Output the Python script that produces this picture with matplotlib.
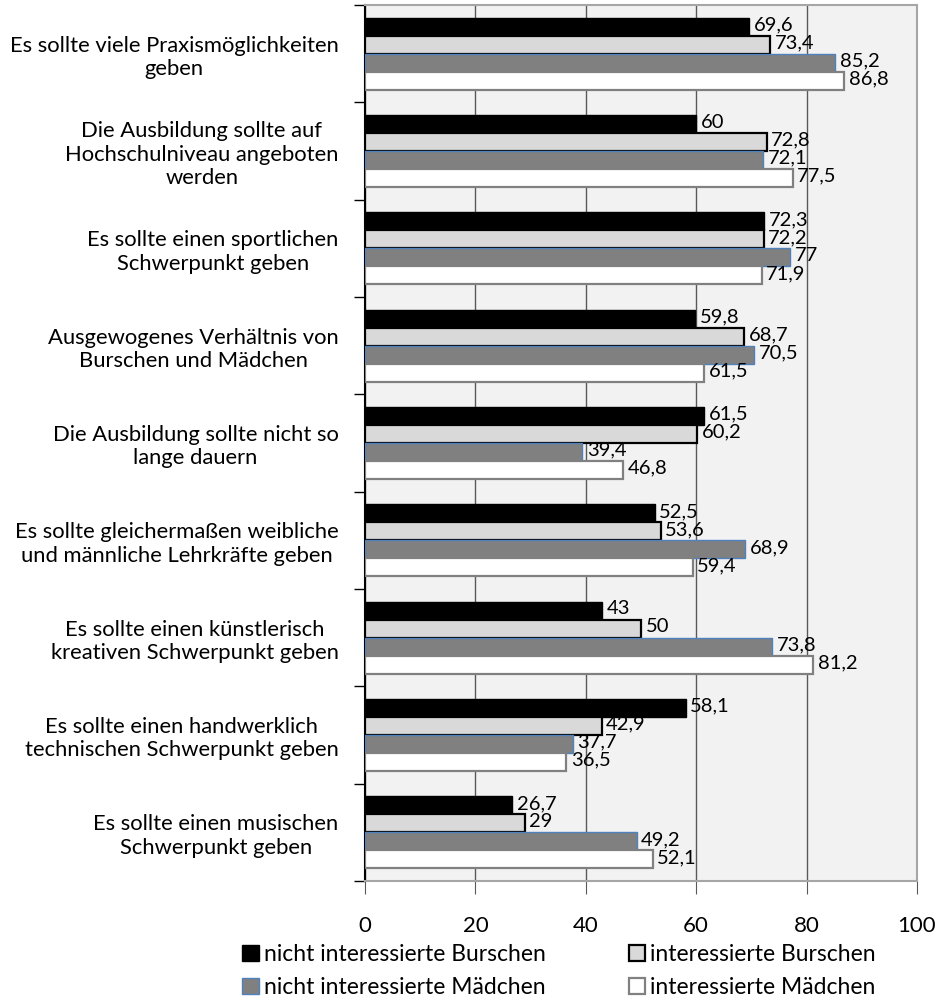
import numpy as np
import matplotlib.pyplot as plt
from matplotlib.patches import Patch

plt.rcParams['font.family'] = ['Lato', 'DejaVu Sans']

categories = [
    'Es sollte viele Praxismöglichkeiten\ngeben',
    'Die Ausbildung sollte auf\nHochschulniveau angeboten\nwerden',
    'Es sollte einen sportlichen\nSchwerpunkt geben',
    'Ausgewogenes Verhältnis von\nBurschen und Mädchen',
    'Die Ausbildung sollte nicht so\nlange dauern',
    'Es sollte gleichermaßen weibliche\nund männliche Lehrkräfte geben',
    'Es sollte einen künstlerisch\nkreativen Schwerpunkt geben',
    'Es sollte einen handwerklich\ntechnischen Schwerpunkt geben',
    'Es sollte einen musischen\nSchwerpunkt geben',
]
series_names = ['nicht interessierte Burschen', 'interessierte Burschen',
                'nicht interessierte Mädchen', 'interessierte Mädchen']
nicht_burschen = [69.6, 60, 72.3, 59.8, 61.5, 52.5, 43, 58.1, 26.7]
int_burschen = [73.4, 72.8, 72.2, 68.7, 60.2, 53.6, 50, 42.9, 29]
nicht_maedchen = [85.2, 72.1, 77, 70.5, 39.4, 68.9, 73.8, 37.7, 49.2]
int_maedchen = [86.8, 77.5, 71.9, 61.5, 46.8, 59.4, 81.2, 36.5, 52.1]

series = [nicht_burschen, int_burschen, nicht_maedchen, int_maedchen]
faces = ['#000000', '#d9d9d9', '#808080', '#ffffff']
edges = ['#000000', '#000000', '#4f81bd', '#808080']
lws = [1.0, 1.6, 1.0, 1.6]

fig = plt.figure(figsize=(9.4, 9.99), dpi=100)
ax = fig.add_axes([0.3883, 0.1181, 0.5872, 0.8769])
ax.set_facecolor('#f2f2f2')

y = np.arange(len(categories))
h = 0.185
for i, vals in enumerate(series):
    pos = y + (i - 1.5) * h
    ax.barh(pos, vals, height=h, color=faces[i], edgecolor=edges[i],
            linewidth=lws[i], zorder=3)
    for p, v in zip(pos, vals):
        txt = ('%g' % v).replace('.', ',')
        ax.text(v + 0.8, p - 0.02, txt, va='center', ha='left', fontsize=14.5, zorder=4)

ax.set_xlim(0, 100)
ax.set_ylim(len(categories) - 0.5, -0.5)
ax.set_xticks(np.arange(0, 101, 20))
ax.xaxis.grid(True, color='#595959', linewidth=1.0, zorder=0)
ax.tick_params(axis='x', direction='out', length=9, color='#595959',
               labelsize=16, pad=16)

ax.set_yticks(y)
ax.set_yticklabels(categories, fontsize=15.8, multialignment='center')
ax.set_yticks(np.arange(-0.5, len(categories)), minor=True)
ax.tick_params(axis='y', which='major', length=0, pad=19)
ax.tick_params(axis='y', which='minor', length=8, color='#000000', width=1)

for s in ['top', 'right', 'bottom']:
    ax.spines[s].set_color('#a6a6a6')
    ax.spines[s].set_linewidth(1.5)
ax.spines['left'].set_color('#000000')
ax.spines['left'].set_linewidth(1.5)

handles = [Patch(facecolor=faces[0], edgecolor=edges[0], linewidth=lws[0], label=series_names[0]),
           Patch(facecolor=faces[2], edgecolor=edges[2], linewidth=lws[2], label=series_names[2]),
           Patch(facecolor=faces[1], edgecolor=edges[1], linewidth=lws[1], label=series_names[1]),
           Patch(facecolor=faces[3], edgecolor=edges[3], linewidth=lws[3], label=series_names[3])]
fig.legend(handles=handles, loc='lower left', bbox_to_anchor=(0.236, -0.02), ncol=2,
           frameon=False, fontsize=16.5, handlelength=0.7, handleheight=0.7,
           handletextpad=0.25, columnspacing=3.6, labelspacing=0.55)

fig.savefig('out.png', dpi=100)
